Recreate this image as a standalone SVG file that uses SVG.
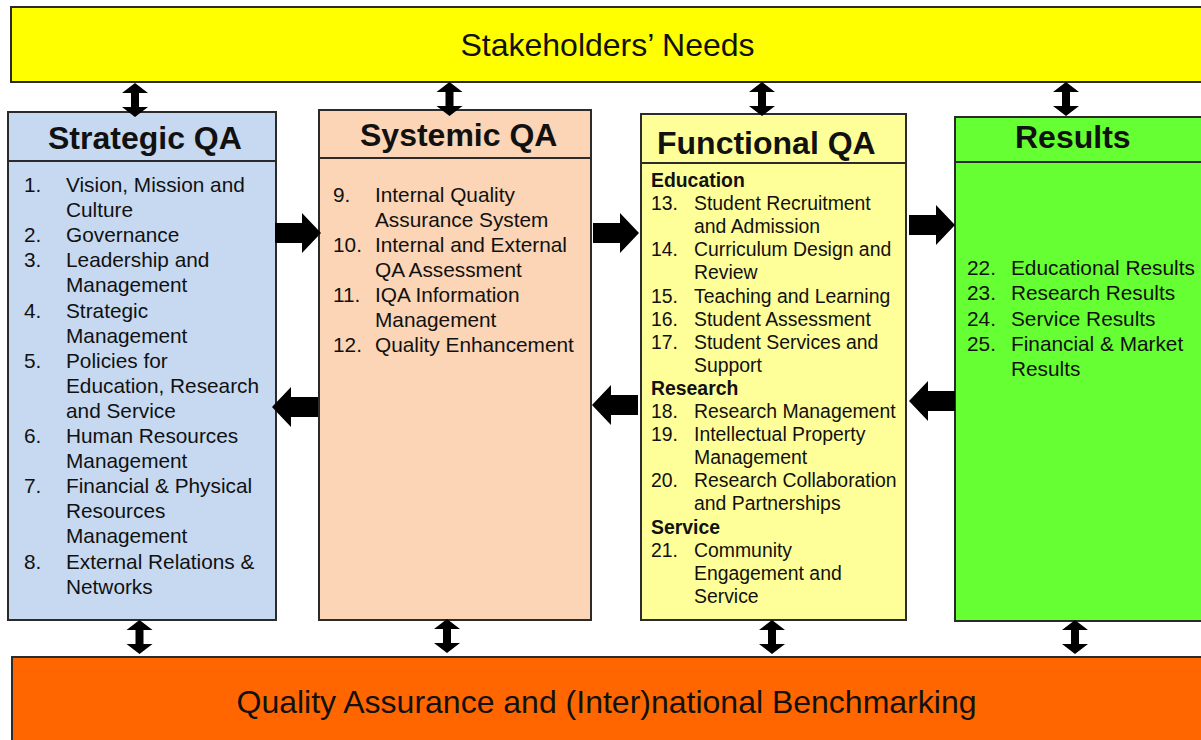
<svg xmlns="http://www.w3.org/2000/svg" xmlns:xlink="http://www.w3.org/1999/xlink" width="1201" height="740" viewBox="0 0 1201 740">
<style>
.box{stroke:#2b2b2b;stroke-width:2}
.t{font-family:"Liberation Sans",Arial,sans-serif;fill:#111}
.title{font-size:32px;font-weight:bold}
.band{font-size:32px}
.b{font-size:20.8px}
.f{font-size:19.4px}
.fb{font-size:19.4px;font-weight:bold}
.arr{fill:#000}
</style>
<defs>
<path id="vdbl" d="M0,0 L13,10 L4,10 L4,24 L13,24 L0,34 L-13,24 L-4,24 L-4,10 L-13,10 Z"/>
<path id="rarr" d="M0,-10 L27,-10 L27,-20 L46,0 L27,20 L27,10 L0,10 Z"/>
<path id="larr" d="M0,0 L19,-20 L19,-10 L46,-10 L46,10 L19,10 L19,20 Z"/>
</defs>
<rect width="1201" height="740" fill="#fff"/>

<g id="stakeholders">
<rect class="box" x="11" y="7" width="1200" height="75" fill="#FFFF00"/>
<text class="t band" x="607.5" y="56" text-anchor="middle">Stakeholders’ Needs</text>
</g>

<g id="benchmarking">
<rect class="box" x="12" y="657" width="1200" height="100" fill="#FF6600"/>
<text class="t band" x="606.5" y="713" text-anchor="middle">Quality Assurance and (Inter)national Benchmarking</text>
</g>

<g id="strategic">
<rect class="box" x="8" y="112" width="268" height="508" fill="#C6D9F1"/>
<line class="box" x1="8" y1="161" x2="276" y2="161"/>
<text class="t title" x="48" y="149">Strategic QA</text>
<g class="t b">
<text x="24" y="192">1.</text><text x="66" y="192">Vision, Mission and</text>
<text x="66" y="217.1">Culture</text>
<text x="24" y="242.2">2.</text><text x="66" y="242.2">Governance</text>
<text x="24" y="267.3">3.</text><text x="66" y="267.3">Leadership and</text>
<text x="66" y="292.4">Management</text>
<text x="24" y="317.5">4.</text><text x="66" y="317.5">Strategic</text>
<text x="66" y="342.6">Management</text>
<text x="24" y="367.7">5.</text><text x="66" y="367.7">Policies for</text>
<text x="66" y="392.8">Education, Research</text>
<text x="66" y="417.9">and Service</text>
<text x="24" y="443">6.</text><text x="66" y="443">Human Resources</text>
<text x="66" y="468.1">Management</text>
<text x="24" y="493.2">7.</text><text x="66" y="493.2">Financial &amp; Physical</text>
<text x="66" y="518.3">Resources</text>
<text x="66" y="543.4">Management</text>
<text x="24" y="568.5">8.</text><text x="66" y="568.5">External Relations &amp;</text>
<text x="66" y="593.6">Networks</text>
</g>
</g>

<g id="systemic">
<rect class="box" x="319" y="110" width="272" height="510" fill="#FBD5B5"/>
<line class="box" x1="319" y1="158" x2="591" y2="158"/>
<text class="t title" x="360" y="146">Systemic QA</text>
<g class="t b">
<text x="333" y="202">9.</text><text x="375" y="202">Internal Quality</text>
<text x="375" y="227">Assurance System</text>
<text x="333" y="252">10.</text><text x="375" y="252">Internal and External</text>
<text x="375" y="277">QA Assessment</text>
<text x="333" y="302">11.</text><text x="375" y="302">IQA Information</text>
<text x="375" y="327">Management</text>
<text x="333" y="352">12.</text><text x="375" y="352">Quality Enhancement</text>
</g>
</g>

<g id="functional">
<rect class="box" x="641" y="114" width="265" height="506" fill="#FFFF99"/>
<line class="box" x1="641" y1="163" x2="906" y2="163"/>
<text class="t title" x="657" y="154">Functional QA</text>
<g class="t f">
<text class="fb" x="651" y="187">Education</text>
<text x="651" y="210.1">13.</text><text x="694" y="210.1">Student Recruitment</text>
<text x="694" y="233.2">and Admission</text>
<text x="651" y="256.3">14.</text><text x="694" y="256.3">Curriculum Design and</text>
<text x="694" y="279.4">Review</text>
<text x="651" y="302.5">15.</text><text x="694" y="302.5">Teaching and Learning</text>
<text x="651" y="325.6">16.</text><text x="694" y="325.6">Student Assessment</text>
<text x="651" y="348.7">17.</text><text x="694" y="348.7">Student Services and</text>
<text x="694" y="371.8">Support</text>
<text class="fb" x="651" y="394.9">Research</text>
<text x="651" y="418">18.</text><text x="694" y="418">Research Management</text>
<text x="651" y="441.1">19.</text><text x="694" y="441.1">Intellectual Property</text>
<text x="694" y="464.2">Management</text>
<text x="651" y="487.3">20.</text><text x="694" y="487.3">Research Collaboration</text>
<text x="694" y="510.4">and Partnerships</text>
<text class="fb" x="651" y="533.5">Service</text>
<text x="651" y="556.6">21.</text><text x="694" y="556.6">Community</text>
<text x="694" y="579.7">Engagement and</text>
<text x="694" y="602.8">Service</text>
</g>
</g>

<g id="results">
<rect class="box" x="955" y="117" width="260" height="504" fill="#66FF33"/>
<line class="box" x1="955" y1="162" x2="1215" y2="162"/>
<text class="t title" x="1015" y="148">Results</text>
<g class="t b">
<text x="967" y="275">22.</text><text x="1011" y="275">Educational Results</text>
<text x="967" y="300.25">23.</text><text x="1011" y="300.25">Research Results</text>
<text x="967" y="325.5">24.</text><text x="1011" y="325.5">Service Results</text>
<text x="967" y="350.75">25.</text><text x="1011" y="350.75">Financial &amp; Market</text>
<text x="1011" y="376">Results</text>
</g>
</g>

<g id="connectors" class="arr">
<use xlink:href="#vdbl" transform="translate(135,83)"/>
<use xlink:href="#vdbl" transform="translate(449.5,82)"/>
<use xlink:href="#vdbl" transform="translate(762,82)"/>
<use xlink:href="#vdbl" transform="translate(1066,82)"/>
<use xlink:href="#vdbl" transform="translate(139.5,620)"/>
<use xlink:href="#vdbl" transform="translate(447,619)"/>
<use xlink:href="#vdbl" transform="translate(772,620)"/>
<use xlink:href="#vdbl" transform="translate(1075,620)"/>
<use xlink:href="#rarr" transform="translate(275,233)"/>
<use xlink:href="#rarr" transform="translate(593,233)"/>
<use xlink:href="#rarr" transform="translate(909,225)"/>
<use xlink:href="#larr" transform="translate(272,407)"/>
<use xlink:href="#larr" transform="translate(592,405)"/>
<use xlink:href="#larr" transform="translate(909,401)"/>
</g>
</svg>
